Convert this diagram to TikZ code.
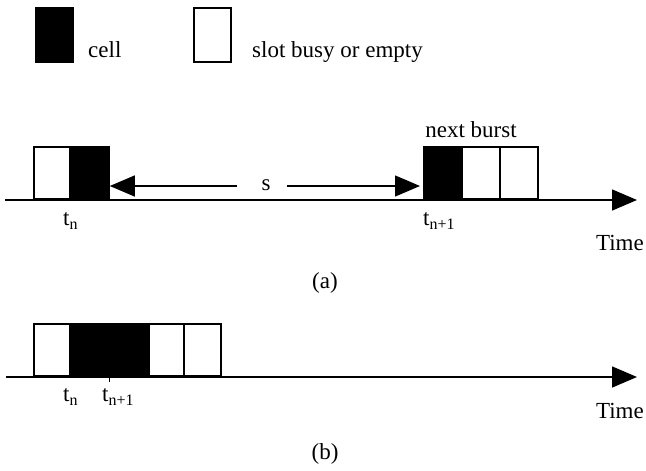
\documentclass[tikz,border=0pt]{standalone}
\usepackage{fontspec}
\setmainfont{Liberation Serif}
\usetikzlibrary{arrows.meta}
\newcommand\subsc[1]{\raisebox{-4pt}{\fontsize{16}{16}\selectfont #1}}
\begin{document}
\begin{tikzpicture}[x=1pt,y=-1pt,
  every node/.style={font=\fontsize{23}{27}\selectfont, inner sep=0pt},
  slotbox/.style={draw=black, line width=1.8pt, fill=white, minimum height=52pt, anchor=south west, inner sep=0pt},
  cellbox/.style={slotbox, fill=black},
  legbox/.style={draw=black, line width=1.8pt, minimum width=37pt, minimum height=54pt, anchor=north west, inner sep=0pt},
  timeline/.style={line width=1.6pt, -{Triangle[length=25pt,width=21pt]}},
  sarrow/.style={line width=1.3pt, -{Triangle[length=25pt,width=21pt]}},
  lbl/.style={anchor=base west},
  rlbl/.style={anchor=base east}
]
\useasboundingbox (0,0) rectangle (646,471);

% legend
\node[legbox, fill=black] (legcell) at (35,7) {};
\node[lbl] (legcelltxt) at (88,57) {cell};
\node[legbox, fill=white] (legslot) at (193,7) {};
\node[lbl] (legslottxt) at (252,57) {slot busy or empty};

% (a)
\coordinate (aStart) at (5,200);
\coordinate (aEnd) at (637,200);
\draw[timeline] (aStart) -- (aEnd);
\node[slotbox, minimum width=36pt] (a1) at (33,200) {};
\node[cellbox, minimum width=39pt] (a2) at (69,200) {};
\node[cellbox, minimum width=38pt] (b1) at (423,200) {};
\node[slotbox, minimum width=38pt] (b2) at (461,200) {};
\node[slotbox, minimum width=38pt] (b3) at (499,200) {};
\coordinate (sL) at (237,186);
\coordinate (sR) at (287,186);
\draw[sarrow] (sL) -- (a2.east |- sL);
\draw[sarrow] (sR) -- ([xshift=-3pt]b1.west |- sR);
\node[anchor=base] (s) at (266,190) {s};
\node[anchor=base] (nb) at (471,137) {next burst};
\node[lbl] (tna) at (63,225) {t\subsc{n}};
\node[lbl] (tn1a) at (423,225) {t\subsc{n+1}};
\node[rlbl] (timea) at (644,250) {Time};
\node[anchor=base] (capa) at (325,288) {(a)};

% (b)
\coordinate (bStart) at (6,377);
\coordinate (bEnd) at (637,377);
\draw[timeline] (bStart) -- (bEnd);
\node[slotbox, minimum width=36pt] (c1) at (33,377) {};
\node[cellbox, minimum width=79pt] (c2) at (69,377) {};
\node[slotbox, minimum width=35pt] (c3) at (148,377) {};
\node[slotbox, minimum width=37pt] (c4) at (183,377) {};
\coordinate (tick) at (109,382);
\draw[line width=1pt] (c2.south -| tick) -- (tick);
\node[lbl] (tnb) at (63,401) {t\subsc{n}};
\node[lbl] (tn1b) at (102,401) {t\subsc{n+1}};
\node[rlbl] (timeb) at (644,418) {Time};
\node[anchor=base] (capb) at (325,459) {(b)};
\end{tikzpicture}
\end{document}
